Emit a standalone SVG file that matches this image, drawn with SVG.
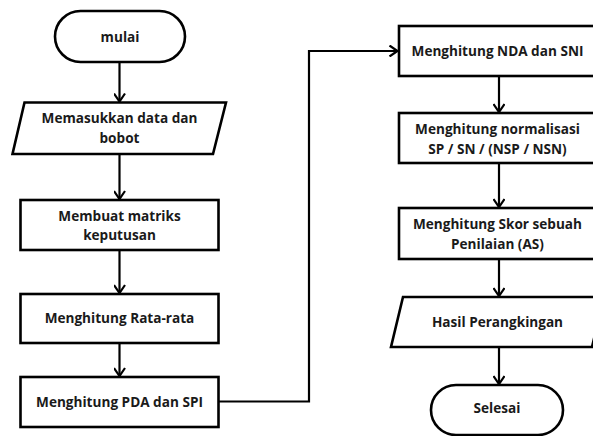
<svg xmlns="http://www.w3.org/2000/svg" width="593" height="436" viewBox="0 0 593 436">
<style>
.n{fill:#fff;stroke:#000;stroke-width:2.6}
.t{font-family:"Open Sans","Liberation Sans",sans-serif;font-weight:bold;font-size:13.6px;fill:#1a1a1a;text-anchor:middle}
.c{fill:none;stroke:#000;stroke-width:2.2}
</style>
<defs>
<marker id="a" markerWidth="12" markerHeight="12" refX="10" refY="6" orient="auto" markerUnits="userSpaceOnUse">
<path d="M2,0.5 L10,6 L2,11.5" fill="none" stroke="#000" stroke-width="2.2"/>
</marker>
</defs>
<rect width="593" height="436" fill="#fff"/>
<g id="connectors">
<path class="c" d="M119.5,62 V101.5" marker-end="url(#a)"/>
<path class="c" d="M119.5,154 V199" marker-end="url(#a)"/>
<path class="c" d="M119.5,250 V293" marker-end="url(#a)"/>
<path class="c" d="M119.5,343 V376" marker-end="url(#a)"/>
<path class="c" d="M218,401.5 H309 V51 H397.5" marker-end="url(#a)"/>
<path class="c" d="M499,76 V112" marker-end="url(#a)"/>
<path class="c" d="M499,163 V207" marker-end="url(#a)"/>
<path class="c" d="M499,259 V296" marker-end="url(#a)"/>
<path class="c" d="M499,347 V384" marker-end="url(#a)"/>
</g>
<g id="mulai">
<rect class="n" x="55" y="11" width="130" height="51" rx="25.5"/>
<text class="t" x="120" y="42">mulai</text>
</g>
<g id="input">
<polygon class="n" points="24.5,102.5 226,102.5 213,154 12.5,154"/>
<text class="t" x="119.5" y="123">Memasukkan data dan</text>
<text class="t" x="119.5" y="143">bobot</text>
</g>
<g id="matriks">
<rect class="n" x="20.5" y="200" width="198" height="50"/>
<text class="t" x="119.5" y="221">Membuat matriks</text>
<text class="t" x="119.5" y="239.5">keputusan</text>
</g>
<g id="ratarata">
<rect class="n" x="20.5" y="294" width="198" height="49"/>
<text class="t" x="119.5" y="323">Menghitung Rata-rata</text>
</g>
<g id="pdaspi">
<rect class="n" x="20.5" y="377" width="198" height="50"/>
<text class="t" x="119.5" y="407">Menghitung PDA dan SPI</text>
</g>
<g id="ndasni">
<rect class="n" x="399" y="26" width="200" height="50"/>
<text class="t" x="497.5" y="56">Menghitung NDA dan SNI</text>
</g>
<g id="normalisasi">
<rect class="n" x="399" y="113" width="200" height="50"/>
<text class="t" x="497.5" y="133.5">Menghitung normalisasi</text>
<text class="t" x="497.5" y="153.5">SP / SN / (NSP / NSN)</text>
</g>
<g id="skor">
<rect class="n" x="399" y="208" width="200" height="51"/>
<text class="t" x="497.5" y="229">Menghitung Skor sebuah</text>
<text class="t" x="497.5" y="249">Penilaian (AS)</text>
</g>
<g id="hasil">
<polygon class="n" points="403,297 604,297 592,347 391,347"/>
<text class="t" x="497.5" y="327">Hasil Perangkingan</text>
</g>
<g id="selesai">
<rect class="n" x="431" y="385" width="132" height="50" rx="25"/>
<text class="t" x="497" y="413">Selesai</text>
</g>
</svg>
